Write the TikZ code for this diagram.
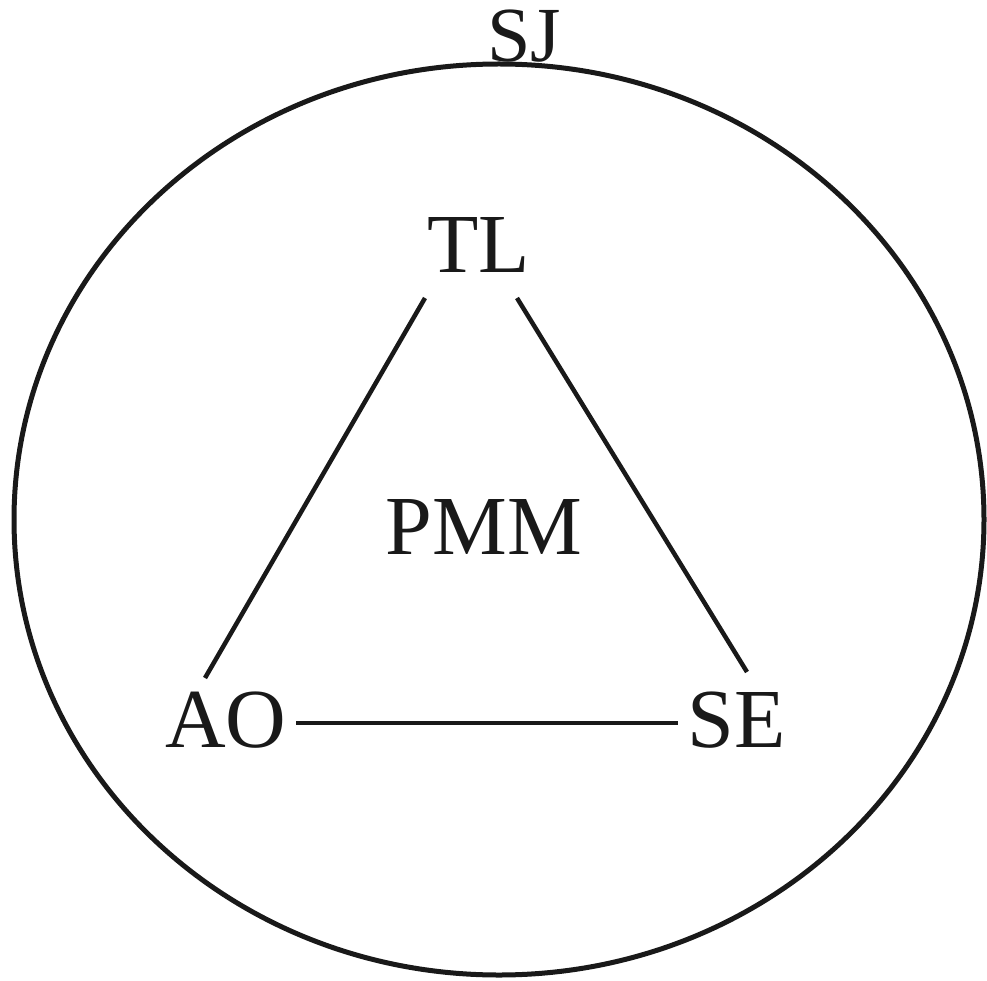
\documentclass[tikz,border=0pt]{standalone}
\usepackage{fontspec}
\setmainfont{Liberation Serif}
\usetikzlibrary{calc}
\tikzset{
  lbl/.style={inner sep=0pt, anchor=base, font=\fontsize{84}{90}\selectfont, text=black!90},
  conn/.style={line width=4.5pt, draw=black!90},
  rim/.style={line width=5pt, draw=black!90}
}
\begin{document}
\begin{tikzpicture}[x=1pt,y=-1pt]
\useasboundingbox (0,0) rectangle (987,981);
\draw[rim] (499,519.5) ellipse [x radius=485pt, y radius=455.5pt];
\node[lbl, font=\fontsize{78}{82}\selectfont] (SJ) at (524,62) {SJ};
\node[lbl] (TL) at (478.5,273) {TL};
\node[lbl] (PMM) at (484,554) {PMM};
\node[lbl] (AO) at (226,747) {AO};
\node[lbl] (SE) at (736.5,747) {SE};
\draw[conn] ($(TL.base)+(-53.5,25)$) -- ($(AO.base)+(-21,-69)$);
\draw[conn] ($(TL.base)+(38.5,25)$) -- ($(SE.base)+(10.5,-75)$);
\draw[conn] ($(AO.base)+(70,-24)$) -- ($(SE.base)+(-58.5,-24)$);
\end{tikzpicture}
\end{document}
